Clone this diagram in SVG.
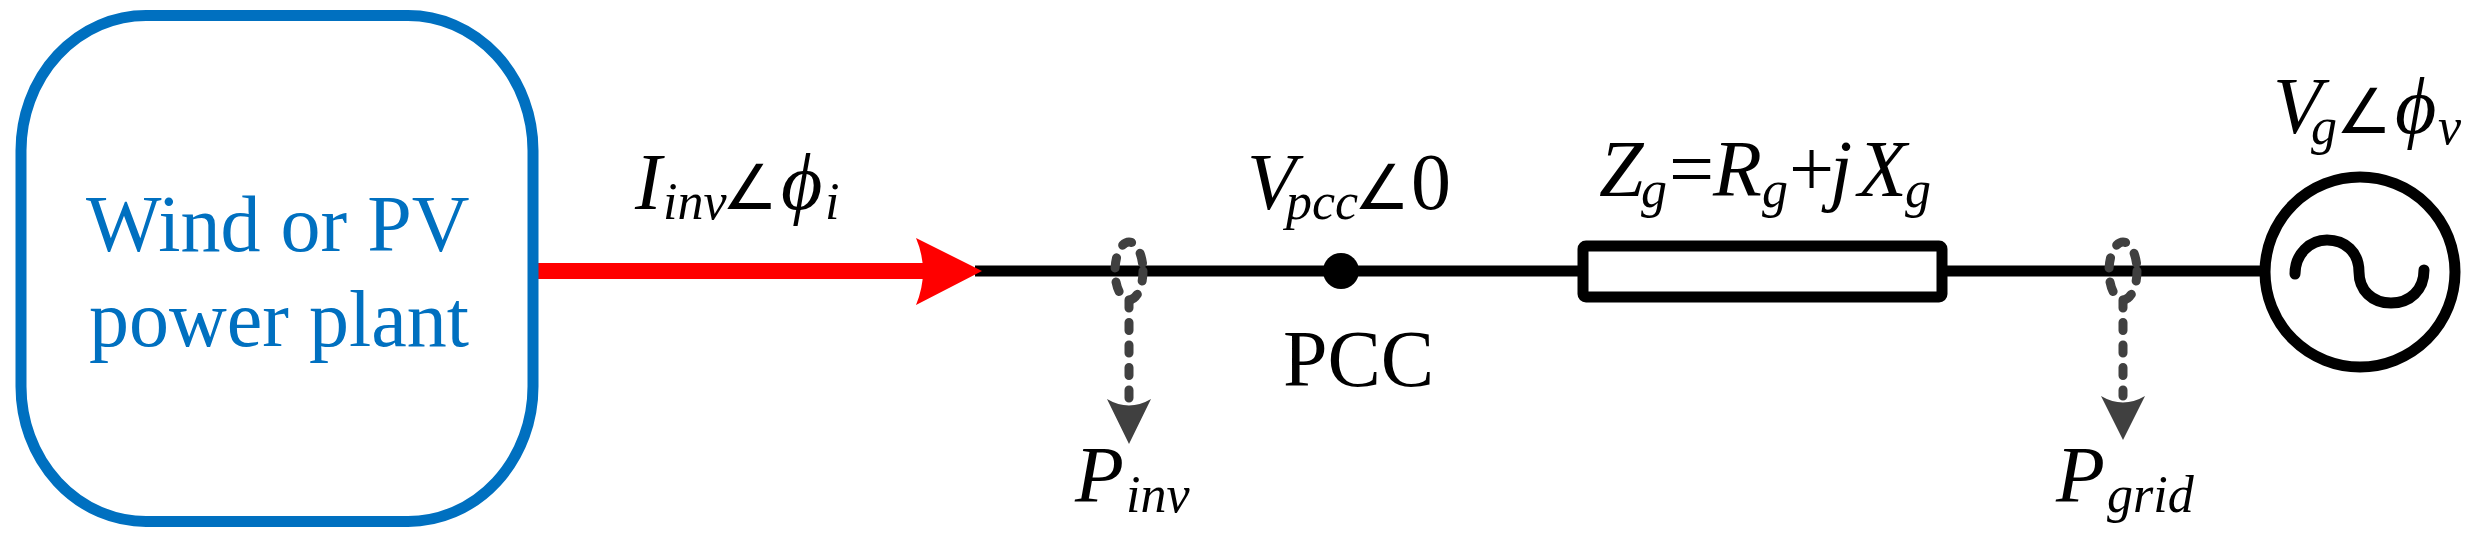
<svg xmlns="http://www.w3.org/2000/svg" width="2484" height="550" viewBox="0 0 2484 550">
<style>
text{font-family:"Liberation Serif","Times New Roman",serif;fill:#000;font-size:80px}
.i{font-style:italic}
.s{font-style:italic;font-size:52px}
.a{font-family:"DejaVu Sans",sans-serif;font-size:62px}
.b{fill:#0070c0}
.d{fill:none;stroke:#404040;stroke-width:9;stroke-linecap:round;stroke-dasharray:8 14.500}
.e{fill:none;stroke:#404040;stroke-width:9;stroke-linecap:round;stroke-dasharray:10 14.200}
.w{stroke:#000;stroke-width:11;fill:none}
</style>
<rect width="2484" height="550" fill="#fff"/>
<g id="connectors">
<path class="w" d="M975 271H1578M1947 271H2262"/>
<path d="M538 263H925V279H538Z" fill="#f00"/>
<path d="M916 238L982 271L916 305Q930 271 916 238Z" fill="#f00"/>
<path class="d" d="M1129 300V398"/>
<path d="M1107 399Q1129 412 1151 399L1129 444Z" fill="#404040"/>
<path class="d" d="M2123 300V396"/>
<path d="M2101 396Q2123 409 2145 396L2123 440Z" fill="#404040"/>
</g>
<g id="plant">
<rect x="21" y="15.500" width="512" height="506" rx="125" ry="135" fill="#fff" stroke="#0070c0" stroke-width="11"/>
<text class="b" x="86" y="251">Wind or PV</text>
<text class="b" x="89" y="346">power plant</text>
</g>
<g id="current-label">
<text class="i" x="635" y="209">I</text><text class="s" x="663" y="219">inv</text><text class="a" x="722" y="209">∠</text><text class="i" x="781" y="209">ϕ</text><text class="s" x="825" y="219">i</text>
</g>
<g id="pcc">
<circle cx="1341" cy="271" r="18"/>
<text class="i" x="1247" y="209">V</text><text class="s" x="1286" y="219">pcc</text><text class="a" x="1354" y="209">∠</text><text x="1411" y="209">0</text>
<text x="1283" y="386">PCC</text>
</g>
<g id="impedance">
<rect x="1583" y="246" width="359" height="51" rx="3" fill="#fff" stroke="#000" stroke-width="11"/>
<text class="i" x="1599" y="196">Z</text><text class="s" x="1641" y="207">g</text><text x="1669" y="196">=</text><text class="i" x="1713" y="196">R</text><text class="s" x="1762" y="207">g</text><text x="1789" y="196">+</text><text class="i" x="1830" y="196">j</text><text class="i" x="1858" y="196">X</text><text class="s" x="1905" y="207">g</text>
</g>
<g id="source">
<circle cx="2360" cy="272" r="95" fill="#fff" stroke="#000" stroke-width="11"/>
<path class="w" stroke-linecap="round" d="M2295 274C2295 254 2310 240 2327 240C2345 240 2359 252 2359 272C2359 290 2372 303 2391 303C2410 303 2424 290 2424 270"/>
<text class="i" x="2273" y="133">V</text><text class="s" x="2311" y="144">g</text><text class="a" x="2336" y="133">∠</text><text class="i" x="2395" y="133">ϕ</text><text class="s" x="2438" y="144">v</text>
</g>
<g id="inv-probe">
<ellipse class="e" cx="1129" cy="271" rx="14" ry="29"/>
<text class="i" x="1075" y="502">P</text><text class="s" x="1126" y="512">inv</text>
</g>
<g id="grid-probe">
<ellipse class="e" cx="2123" cy="271" rx="14" ry="29"/>
<text class="i" x="2056" y="502">P</text><text class="s" x="2107" y="512">grid</text>
</g>
</svg>
